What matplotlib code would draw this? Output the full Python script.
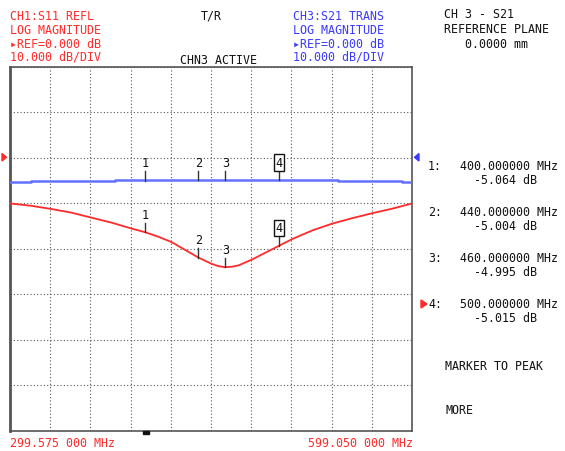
import matplotlib
matplotlib.use("Agg")
import matplotlib.pyplot as plt
import numpy as np

plt.rcParams['font.family'] = ['DejaVu Sans Mono', 'DejaVu Sans']

# ---- data ----
f_start = 299.575
f_stop = 599.050
ref_db = 0.0
db_per_div = 10.0

# CH1 S11 reflection (red trace)
s11_freq = [299.575, 315, 330, 345, 360, 375, 390, 400, 410, 420, 430, 440, 450, 455, 460,
            465, 470, 480, 490, 500, 510, 525, 540, 555, 570, 585, 599.05]
s11_db = [-10.1, -10.6, -11.3, -12.1, -13.2, -14.3, -15.6, -16.4, -17.4, -18.6, -20.3, -22.0,
          -23.4, -23.9, -24.1, -24.0, -23.7, -22.4, -20.9, -19.4, -17.9, -16.0, -14.5, -13.3,
          -12.2, -11.2, -10.1]

# CH3 S21 transmission (blue trace, display is quantized in steps)
s21_freq = [299.575, 315.2, 377.8, 543.9, 591.6, 599.05]
s21_db = [-5.30, -5.15, -4.95, -5.15, -5.30, -5.30]

# markers
marker_labels = ['1', '2', '3', '4']
marker_freq = [400.0, 440.0, 460.0, 500.0]
marker_s21 = [-5.064, -5.004, -4.995, -5.015]
marker_s11 = [-16.4, -22.0, -24.1, -19.4]
active_marker = 3

RED = '#ff2a2a'
BLUE = '#3a3aff'
BLACK = '#111111'

W, H = 565, 452
fig = plt.figure(figsize=(W / 100, H / 100), dpi=100)
fig.patch.set_facecolor('white')


def px(x, y):
    # pixel position (from top-left) -> figure fraction
    return x / W, 1 - y / H


left, top, right, bottom = 10, 67.5, 412, 431.5
ax = fig.add_axes([left / W, 1 - bottom / H, (right - left) / W, (bottom - top) / H])
ax.set_xlim(f_start, f_stop)
ax.set_ylim(ref_db - 6 * db_per_div, ref_db + 2 * db_per_div)
ax.set_xticks(np.linspace(f_start, f_stop, 11))
ax.set_yticks(np.arange(-60, 21, 10))
ax.tick_params(length=0, labelbottom=False, labelleft=False)
ax.grid(True, color='#555555', linestyle=(0, (1, 2)), linewidth=0.8)
for s in ax.spines.values():
    s.set_color('#555555')
    s.set_linewidth(1.2)
ax.spines['left'].set_linewidth(2)

ax.plot(s21_freq, s21_db, drawstyle='steps-post', color='#6470ff', lw=1.8, zorder=3)
ax.plot(s11_freq, s11_db, color=RED, lw=1.3, zorder=3)

tick_len = 2.1
for lab, f, v1, v2 in zip(marker_labels, marker_freq, marker_s21, marker_s11):
    for v in (v1, v2):
        ax.plot([f, f], [v, v + tick_len], color='#333333', lw=1, zorder=4)
        box = None
        if lab == marker_labels[active_marker]:
            box = dict(boxstyle='square,pad=0.15', fc='white', ec=BLACK, lw=1)
        ax.text(f, v + tick_len + 0.4, lab, ha='center', va='bottom', fontsize=8.5,
                color=BLACK, bbox=box, zorder=5)

# reference level triangles
fig.patches.append(plt.Polygon([px(2, 154.5), px(2, 162), px(6.5, 158.3)], closed=True,
                               transform=fig.transFigure, color=RED))
fig.patches.append(plt.Polygon([px(419, 154.5), px(419, 162), px(414.5, 158.3)], closed=True,
                               transform=fig.transFigure, color=BLUE))

# small marker indicator under the grid
fig.patches.append(plt.Rectangle(px(143, 434.5), 5.5 / W, 2.5 / H,
                                 transform=fig.transFigure, color=BLACK))

fs = 8.4


def put(x, y, s, color=BLACK, ha='left'):
    fig.text(*px(x, y), s, color=color, fontsize=fs, ha=ha, va='center')


# header
put(10, 16, 'CH1:S11 REFL', RED)
put(10, 30, 'LOG MAGNITUDE', RED)
put(10, 44, '▸REF=0.000 dB', RED)
put(10, 57.5, '10.000 dB/DIV', RED)
put(201, 16, 'T/R')
put(180, 60, 'CHN3 ACTIVE')
put(293, 16, 'CH3:S21 TRANS', BLUE)
put(293, 30, 'LOG MAGNITUDE', BLUE)
put(293, 44, '▸REF=0.000 dB', BLUE)
put(293, 57.5, '10.000 dB/DIV', BLUE)

# right panel
put(444, 15, 'CH 3 - S21')
put(444, 29.5, 'REFERENCE PLANE')
put(465, 45, '0.0000 mm')

row_y = [167, 213, 259, 305]
for i, (lab, f, v) in enumerate(zip(marker_labels, marker_freq, marker_s21)):
    y = row_y[i]
    put(428, y, lab + ':')
    put(558, y, f'{f:.6f} MHz', ha='right')
    put(537, y + 13.5, f'{v:.3f} dB', ha='right')
    if i == active_marker:
        fig.patches.append(plt.Polygon([px(421, y - 4), px(421, y + 4), px(427, y)], closed=True,
                                       transform=fig.transFigure, color=RED))

put(445, 366, 'MARKER TO PEAK')
put(445, 411, 'MORE')

# footer
put(10, 444, f'{f_start:.3f} 000 MHz', RED)
put(413, 444, f'{f_stop:.3f} 000 MHz', RED, ha='right')

fig.savefig('out.png', dpi=100, facecolor='white')
